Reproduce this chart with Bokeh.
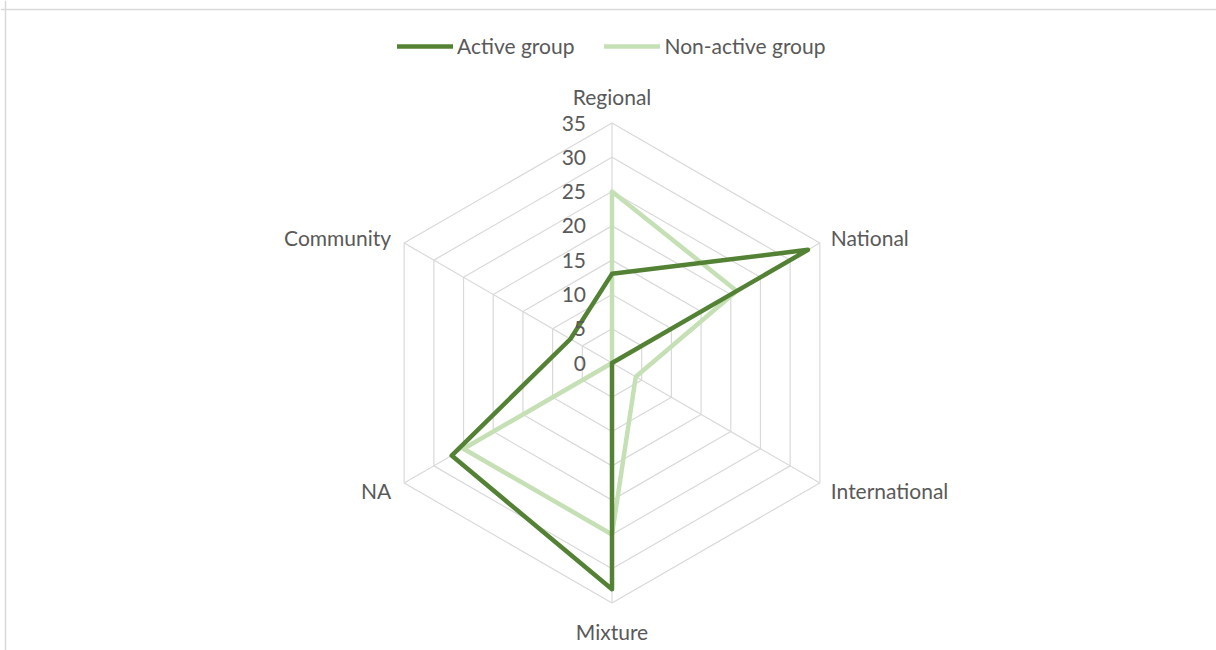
import numpy as np
from bokeh.plotting import figure
from bokeh.models import Range1d, Legend, LegendItem, Span
from bokeh.core.properties import value
from bokeh.embed import file_html
from bokeh.resources import INLINE

categories = ["Regional", "National", "International", "Mixture", "NA", "Community"]
active = [13, 33, 0, 33, 27, 7]
non_active = [25, 21, 4, 25, 25, 0]
ticks = [0, 5, 10, 15, 20, 25, 30, 35]
tick_labels = ["0", "5", "10", "15", "20", "25", "30", "35"]

W, H = 1216, 650
CX, CY = 611.5, 362.5   # centre in canvas pixels
RMAX = 240.0
VMAX = 35.0
scale = RMAX / VMAX

FONT = "Lato"
FS = "21px"
TXT = "#595959"
GRID = "#D9D9D9"
C_ACT = "#548235"
C_NON = "#C5E0B4"

p = figure(width=W, height=H, output_backend="svg", toolbar_location=None,
           x_range=Range1d(-CX, W - CX), y_range=Range1d(CY - H, CY),
           min_border_left=0, min_border_right=0, min_border_top=0, min_border_bottom=0)
p.axis.visible = False
p.grid.visible = False
p.outline_line_color = None
p.background_fill_color = "white"
p.border_fill_color = "white"

# chart-area border (top and left edges visible)
p.add_layout(Span(location=CY - 9, dimension="width", line_color=GRID, line_width=1.5))
p.add_layout(Span(location=5 - CX, dimension="height", line_color=GRID, line_width=1.5))

n = len(categories)
ang = np.deg2rad(90 - 360.0 / n * np.arange(n))
cosA, sinA = np.cos(ang), np.sin(ang)

# rings
for t in ticks[1:]:
    r = t * scale
    xs = list(r * cosA) + [r * cosA[0]]
    ys = list(r * sinA) + [r * sinA[0]]
    p.line(xs, ys, line_color=GRID, line_width=1.2)
# spokes
p.segment(x0=[0] * n, y0=[0] * n, x1=list(RMAX * cosA), y1=list(RMAX * sinA),
          line_color=GRID, line_width=1.2)

# series
def poly(vals):
    v = np.array(vals, dtype=float) * scale
    xs = list(v * cosA) + [v[0] * cosA[0]]
    ys = list(v * sinA) + [v[0] * sinA[0]]
    return xs, ys

xa, ya = poly(active)
xn, yn = poly(non_active)
rn = p.line(xn, yn, line_color=C_NON, line_width=4.5, line_join="round", line_cap="round")
ra = p.line(xa, ya, line_color=C_ACT, line_width=4.5, line_join="round", line_cap="round")

# tick labels
p.text(x=[-26] * len(ticks), y=[t * scale for t in ticks], text=tick_labels,
       text_align="right", text_baseline="middle", text_font=value(FONT),
       text_font_size=FS, text_color=TXT)

# category labels
lab_x, lab_y, aligns = [], [], []
for i in range(n):
    a = ang[i]
    cx, cy = RMAX * np.cos(a), RMAX * np.sin(a)
    c = np.cos(a)
    if abs(c) < 1e-6:
        lab_x.append(cx)
        lab_y.append(cy + (26.5 if np.sin(a) > 0 else -28))
        aligns.append("center")
    elif c > 0:
        lab_x.append(cx + 11)
        lab_y.append(cy + (5.5 if np.sin(a) > 0 else -7.5))
        aligns.append("left")
    else:
        lab_x.append(cx - 13)
        lab_y.append(cy + (5.5 if np.sin(a) > 0 else -7.5))
        aligns.append("right")
for xx, yy, tt, al in zip(lab_x, lab_y, categories, aligns):
    p.text(x=[xx], y=[yy], text=[tt], text_align=al, text_baseline="middle",
           text_font=value(FONT), text_font_size=FS, text_color=TXT)

legend = Legend(items=[LegendItem(label="Active group", renderers=[ra]),
                       LegendItem(label="Non-active group", renderers=[rn])],
                orientation="horizontal", location=(397, 592),
                glyph_width=56, glyph_height=24, label_standoff=4, spacing=30,
                padding=0, margin=0, border_line_alpha=0, background_fill_alpha=0,
                label_text_font=FONT, label_text_font_size=FS, label_text_color=TXT)
p.add_layout(legend, "center")

open("out.html", "w").write(file_html(p, INLINE))
